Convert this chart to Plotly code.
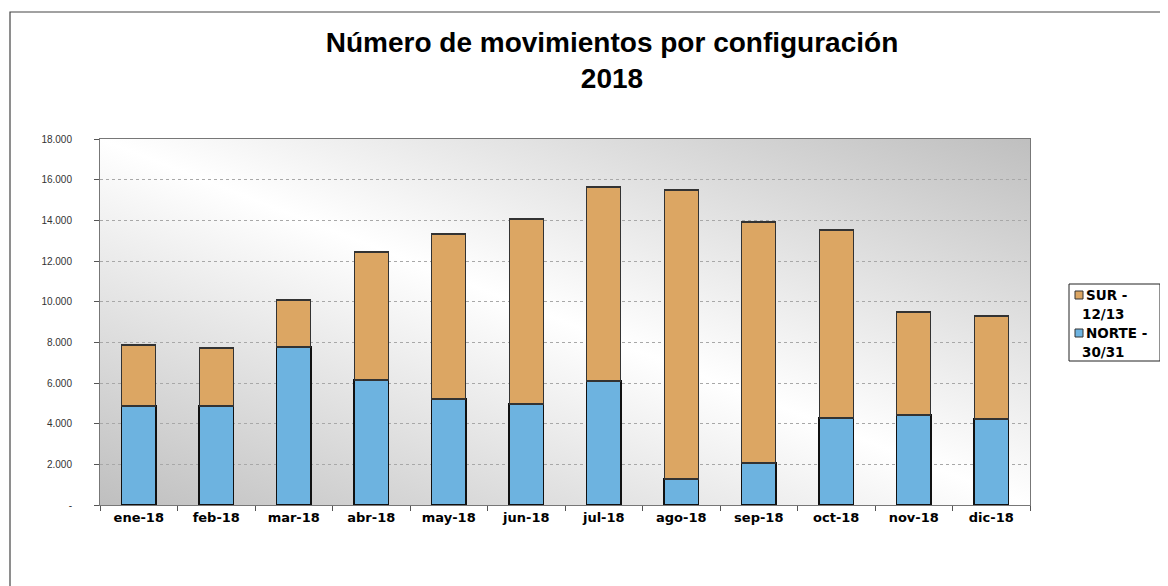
import plotly.graph_objects as go
import urllib.parse

months = ["ene-18", "feb-18", "mar-18", "abr-18", "may-18", "jun-18",
          "jul-18", "ago-18", "sep-18", "oct-18", "nov-18", "dic-18"]
norte = [4870, 4870, 7770, 6150, 5210, 4970, 6100, 1280, 2070, 4280, 4430, 4230]
total = [7870, 7720, 10080, 12440, 13330, 14070, 15640, 15490, 13920, 13520, 9490, 9300]
sur = [t - n for t, n in zip(total, norte)]

ytick_vals = [0, 2000, 4000, 6000, 8000, 10000, 12000, 14000, 16000, 18000]
ytick_text = ["-", "2.000", "4.000", "6.000", "8.000", "10.000", "12.000", "14.000", "16.000", "18.000"]

series_names = ["SUR -<br>12/13", "NORTE -<br>30/31"]
color_sur, color_norte = "#dca663", "#6db3e0"

fig = go.Figure()
fig.add_trace(go.Bar(x=months, y=norte, name=series_names[1], showlegend=False,
                     marker=dict(color=color_norte, line=dict(color="#111111", width=1.5))))
fig.add_trace(go.Bar(x=months, y=sur, name=series_names[0], showlegend=False,
                     marker=dict(color=color_sur, line=dict(color="#333333", width=1.2))))

svg = ("<svg xmlns='http://www.w3.org/2000/svg' width='100' height='100' preserveAspectRatio='none'>"
       "<defs><linearGradient id='g' x1='0' y1='1' x2='1' y2='0'>"
       "<stop offset='0' stop-color='#bfbfbf'/><stop offset='0.5' stop-color='#ffffff'/>"
       "<stop offset='1' stop-color='#bfbfbf'/></linearGradient></defs>"
       "<rect width='100' height='100' fill='url(#g)'/></svg>")
src = "data:image/svg+xml;charset=utf-8," + urllib.parse.quote(svg)

# plot area: 930 x 366 px
L, T, PW, PH = 92, 131, 930, 366
W, H = 1168, 586


def px(x):  # page x -> paper
    return (x - 100) / PW


def py(y):  # page y -> paper
    return (505 - y) / PH


shapes = [
    dict(type="rect", xref="paper", yref="paper",
         x0=px(10), x1=1.3, y0=-0.5, y1=py(12),
         line=dict(color="#444444", width=1.2), fillcolor="rgba(0,0,0,0)", layer="below"),
    # legend box
    dict(type="rect", xref="paper", yref="paper",
         x0=px(1069), x1=px(1160), y0=py(361), y1=py(284),
         line=dict(color="#222222", width=1), fillcolor="white"),
]
annotations = []
legend_font = dict(family="DejaVu Sans, Verdana, sans-serif", size=13.5, color="black", weight="bold")
for name, col, ytop in [(series_names[0], color_sur, 295), (series_names[1], color_norte, 333)]:
    shapes.append(dict(type="rect", xref="paper", yref="paper",
                       x0=px(1075), x1=px(1083), y0=py(ytop + 4), y1=py(ytop - 4),
                       line=dict(color="#333333", width=1), fillcolor=col))
    l1, l2 = name.split("<br>")
    annotations.append(dict(xref="paper", yref="paper", x=px(1085), y=py(ytop), text=l1,
                            xanchor="left", yanchor="middle", showarrow=False, font=legend_font,
                            borderpad=0))
    annotations.append(dict(xref="paper", yref="paper", x=px(1081), y=py(ytop + 19), text=l2,
                            xanchor="left", yanchor="middle", showarrow=False, font=legend_font,
                            borderpad=0))

fig.update_layout(
    width=W, height=H,
    margin=dict(l=L, r=W - L - PW, t=T, b=H - T - PH, autoexpand=False),
    paper_bgcolor="white",
    plot_bgcolor="rgba(0,0,0,0)",
    barmode="stack",
    bargap=0.56,
    showlegend=False,
    title=dict(text="Número de movimientos por configuración<br>2018",
               x=(612 - 8) / W, xanchor="center", y=1 - 44 / H, yanchor="top",
               font=dict(family="Liberation Sans, Arial, sans-serif",
                         size=28, color="black", weight="bold")),
    images=[dict(source=src, xref="paper", yref="paper", x=0, y=1, sizex=1, sizey=1,
                 xanchor="left", yanchor="top", sizing="stretch", layer="below")],
    shapes=shapes,
    annotations=annotations,
)
fig.update_xaxes(showline=True, linecolor="#777777", linewidth=1, mirror=True,
                 ticks="outside", tickson="boundaries", ticklen=5, tickcolor="#555555",
                 tickfont=dict(family="DejaVu Sans, Verdana, sans-serif", size=13, color="black", weight="bold"),
                 showgrid=False)
fig.update_yaxes(range=[0, 18000], tickvals=ytick_vals, ticktext=ytick_text,
                 showline=True, linecolor="#777777", linewidth=1, mirror=True,
                 ticks="outside", ticklen=5, tickcolor="#555555", ticklabelstandoff=20,
                 tickfont=dict(family="Liberation Sans, Arial, sans-serif", size=10, color="#333333"),
                 showgrid=True, gridcolor="#a8a8a8", griddash="dot", gridwidth=1, zeroline=False)

fig.write_html("out.html")
